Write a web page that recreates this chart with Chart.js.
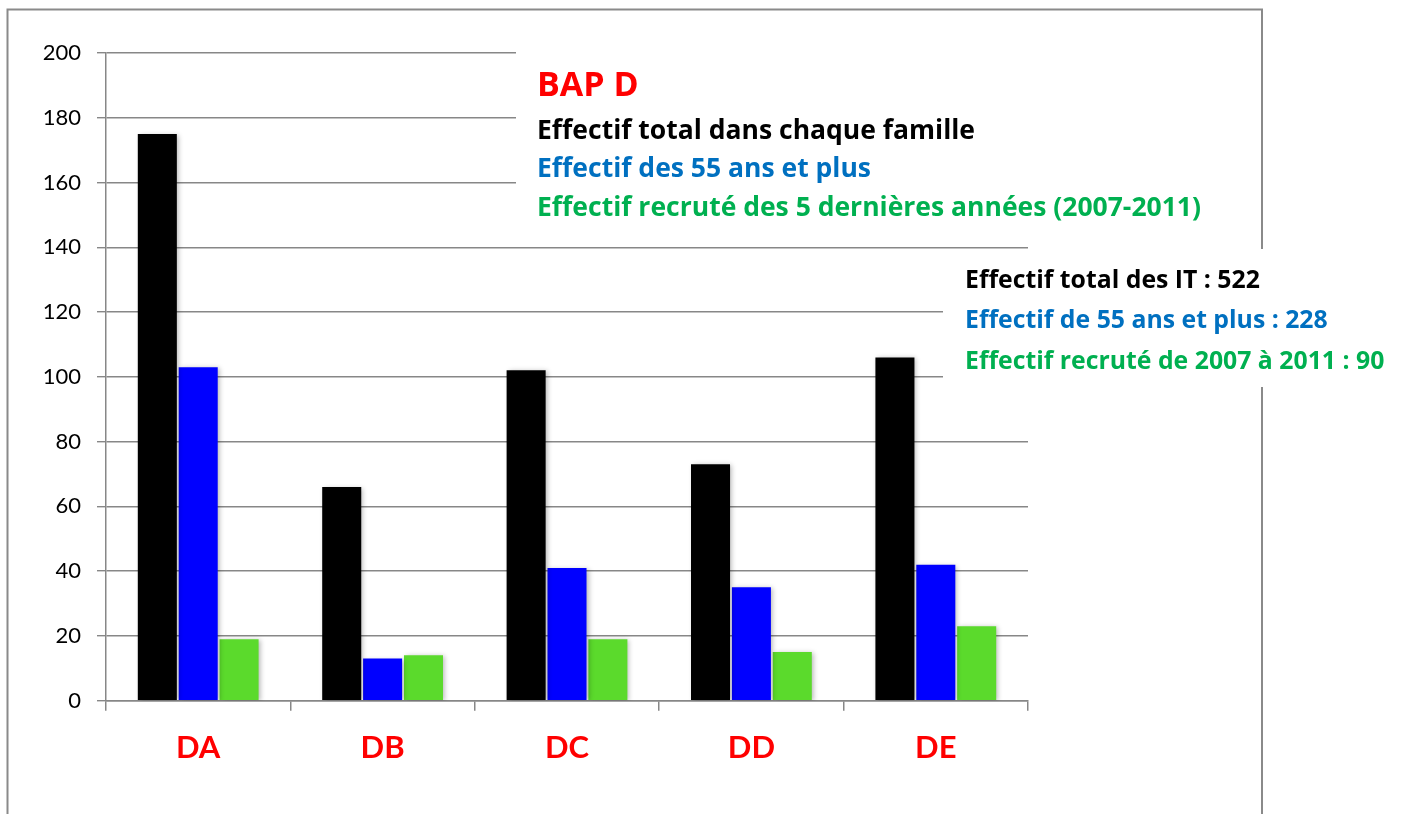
<!DOCTYPE html>
<html lang="fr">
<head>
<meta charset="utf-8">
<title>BAP D – effectifs par famille</title>
<script src="https://cdn.jsdelivr.net/npm/chart.js@4.4.1/dist/chart.umd.min.js"></script>
<style>
  html, body { margin: 0; padding: 0; background: #fff; }
  #wrap { width: 1406px; height: 814px; position: relative; }
</style>
</head>
<body>
<div id="wrap"><canvas id="c" width="1406" height="814"></canvas></div>
<script>
// Familles professionnelles de la BAP D
const categories = ['DA', 'DB', 'DC', 'DD', 'DE'];

// Effectifs par famille
const effectifTotal = [175, 66, 102, 73, 106];
const effectif55Plus = [103, 13, 41, 35, 42];
const effectifRecrute = [19, 14, 19, 15, 23];

// Axe vertical
const yMin = 0;
const yMax = 200;
const yStep = 20;

// Textes des encadrés
const titleLines = [
  { text: 'BAP D', color: '#FF0000', size: 34 },
  { text: 'Effectif total dans chaque famille', color: '#000000', size: 26.5 },
  { text: 'Effectif des 55 ans et plus', color: '#0070C0', size: 26.5 },
  { text: 'Effectif recruté des 5 dernières années (2007-2011)', color: '#00B050', size: 26.5 }
];
const totalLines = [
  { text: 'Effectif total des IT : 522', color: '#000000', size: 24.8 },
  { text: 'Effectif de 55 ans et plus : 228', color: '#0070C0', size: 24.8 },
  { text: 'Effectif recruté de 2007 à 2011 : 90', color: '#00B050', size: 24.8 }
];

const GRID = '#878787';
const FONT = 'Lato, "Open Sans", sans-serif';
const BOX_FONT = '"Open Sans", Lato, sans-serif';

// Cadre gris autour du graphique
const framePlugin = {
  id: 'frame',
  beforeDraw(chart) {
    const ctx = chart.ctx;
    ctx.save();
    ctx.fillStyle = '#fff';
    ctx.fillRect(0, 0, chart.width, chart.height);
    ctx.strokeStyle = '#8a8a8a';
    ctx.lineWidth = 2;
    ctx.strokeRect(7.5, 9.5, 1254.5, 840);
    ctx.restore();
  }
};

// Ombre légère sous les barres
const shadowPlugin = {
  id: 'barShadow',
  beforeDatasetsDraw(chart) {
    const ctx = chart.ctx;
    ctx.save();
    ctx.shadowColor = 'rgba(0,0,0,0.28)';
    ctx.shadowBlur = 5;
    ctx.shadowOffsetX = 2;
    ctx.shadowOffsetY = 1;
  },
  afterDatasetsDraw(chart) {
    chart.ctx.restore();
  }
};

// Encadrés de texte posés sur le graphique
const textBoxPlugin = {
  id: 'textBoxes',
  afterDraw(chart) {
    const ctx = chart.ctx;
    ctx.save();
    ctx.fillStyle = '#fff';
    ctx.fillRect(516, 30, 728, 203);
    ctx.fillRect(943, 249, 470, 138);

    ctx.textAlign = 'left';
    ctx.textBaseline = 'alphabetic';
    const titleBase = [96, 138.7, 176.7, 215.7];
    titleLines.forEach((l, i) => {
      ctx.font = 'bold ' + l.size + 'px ' + BOX_FONT;
      ctx.fillStyle = l.color;
      ctx.fillText(l.text, 537, titleBase[i]);
    });
    const totalBase = [288.3, 328.3, 369];
    totalLines.forEach((l, i) => {
      ctx.font = 'bold ' + l.size + 'px ' + BOX_FONT;
      ctx.fillStyle = l.color;
      ctx.fillText(l.text, 965, totalBase[i]);
    });
    ctx.restore();
  }
};

const barOpts = { categoryPercentage: 0.665, barPercentage: 0.955, borderWidth: 0 };

new Chart(document.getElementById('c'), {
  type: 'bar',
  data: {
    labels: categories,
    datasets: [
      Object.assign({ label: 'Effectif total', data: effectifTotal, backgroundColor: '#000000' }, barOpts),
      Object.assign({ label: 'Effectif 55 ans et plus', data: effectif55Plus, backgroundColor: '#0000FF' }, barOpts),
      Object.assign({ label: 'Effectif recruté 2007-2011', data: effectifRecrute, backgroundColor: '#5BDA2C' }, barOpts)
    ]
  },
  options: {
    responsive: false,
    animation: false,
    events: [],
    layout: { padding: { left: 0, right: 378, top: 53, bottom: 0 } },
    plugins: {
      legend: { display: false },
      tooltip: { enabled: false },
      title: { display: false }
    },
    scales: {
      x: {
        grid: {
          offset: true,
          drawOnChartArea: false,
          drawTicks: true,
          tickLength: 10,
          color: GRID,
          lineWidth: 1.5
        },
        border: { color: GRID, width: 1.5 },
        ticks: {
          color: '#FF0000',
          font: { family: FONT, size: 31, weight: 'bold' },
          padding: 19
        },
        afterFit(scale) { scale.height = 113.3; }
      },
      y: {
        min: yMin,
        max: yMax,
        ticks: {
          stepSize: yStep,
          color: '#000',
          font: { family: FONT, size: 22 },
          padding: 16
        },
        grid: {
          color: GRID,
          lineWidth: 1.4,
          tickLength: 9
        },
        border: { color: GRID, width: 1.5 },
        afterFit(scale) { scale.width = 106; }
      }
    }
  },
  plugins: [framePlugin, shadowPlugin, textBoxPlugin]
});
</script>
</body>
</html>
